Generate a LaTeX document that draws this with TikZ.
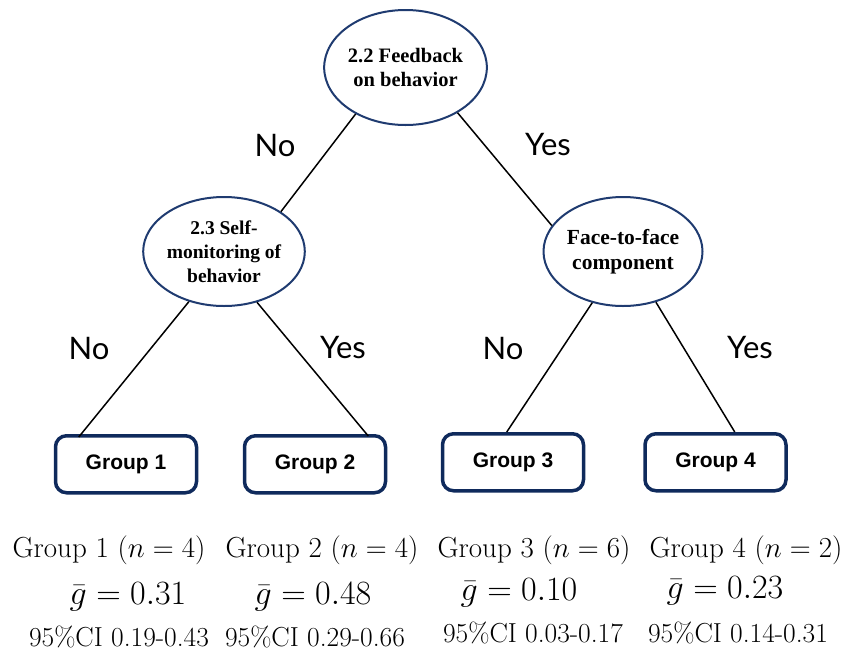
\RequirePackage{fix-cm}
\documentclass[tikz,border=0pt]{standalone}
\usepackage{fontspec}
\usepackage{amsmath}
\newfontfamily\splitfont{Liberation Serif}
\newfontfamily\groupfont{Liberation Sans}
\newfontfamily\answerfont{Lato}
\usetikzlibrary{shapes.geometric,positioning}
\definecolor{splitblue}{HTML}{1F3B70}
\definecolor{groupblue}{HTML}{0F2A5C}

\begin{document}
\begin{tikzpicture}
        [x=1pt, y=-1pt, node distance=70pt,
         split/.style={ellipse, draw=splitblue, line width=2pt, minimum width=159pt, minimum height=109pt, inner sep=0pt, align=center, font=\splitfont\bfseries\fontsize{21.5}{25}\selectfont},
         group/.style={draw=groupblue, line width=3.5pt, rounded corners=11pt, minimum width=141pt, minimum height=57pt, font=\groupfont\bfseries\fontsize{21}{25}\selectfont},
         answer/.style={font=\answerfont\fontsize{31}{36}\selectfont},
         branch/.style={line width=1.5pt},
         count/.style={anchor=base, inner sep=0pt, font=\fontsize{29}{32}\selectfont},
         mean/.style={anchor=base, inner sep=0pt, font=\fontsize{34}{38}\selectfont},
         ci/.style={anchor=base, inner sep=0pt, font=\fontsize{27.5}{30}\selectfont}]
        \useasboundingbox (0,0) rectangle (858,651);
        
        \node [split, minimum width=161pt, minimum height=115pt, font=\splitfont\bfseries\fontsize{20.5}{24}\selectfont] (fb) at (405.5,67.5) {2.2 Feedback\\on behavior};
        \node [split, font=\splitfont\bfseries\fontsize{19.5}{24}\selectfont] (sm) [below =of fb, xshift=-181.5pt] {2.3 Self-\\monitoring of\\behavior};
        \node [split] (ff) [below =of fb, xshift=217.5pt] {Face-to-face\\component};
        
        \node [group] (g1) [below =127pt of sm, xshift=-98pt] {Group 1};
        \node [group] (g2) [below =127pt of sm, xshift=91pt] {Group 2};
        \node [group] (g3) [below =125pt of ff, xshift=-110pt] {Group 3};
        \node [group] (g4) [below =125pt of ff, xshift=92.5pt] {Group 4};
        
        \node [answer] (no1) at (275,145) {No};
        \node [answer] (yes1) at (548,145) {Yes};
        \node [answer] (no2) at (89,348) {No};
        \node [answer] (yes2) at (343,348) {Yes};
        \node [answer] (no3) at (503,348) {No};
        \node [answer] (yes3) at (750,348) {Yes};
        
        \draw [branch] (fb.223) -- (sm.35);
        \draw [branch] (fb.319) -- (ff.160);
        \draw [branch] (sm.235) -- ([xshift=25pt,yshift=-3pt]g1.north west);
        \draw [branch] (sm.303) -- ([xshift=-19pt,yshift=-2pt]g2.north east);
        \draw [branch] (ff.239) -- ([xshift=66pt]g3.north west);
        \draw [branch] (ff.303) -- ([xshift=-53pt]g4.north east);
        
        \node [count] (n1) at (109,557) {Group 1 ($n=4$)};
        \node [count] (n2) at (322,557) {Group 2 ($n=4$)};
        \node [count] (n3) at (534,557) {Group 3 ($n=6$)};
        \node [count] (n4) at (746,557) {Group 4 ($n=2$)};
        
        \node [mean] (m1) at (128,604) {$\bar{g}=0.31$};
        \node [mean] (m2) at (313,604) {$\bar{g}=0.48$};
        \node [mean] (m3) at (519,600) {$\bar{g}=0.10$};
        \node [mean] (m4) at (725,598) {$\bar{g}=0.23$};
        
        \node [ci] (c1) at (119,646) {95\%CI 0.19-0.43};
        \node [ci] (c2) at (315,646) {95\%CI 0.29-0.66};
        \node [ci] (c3) at (533,642) {95\%CI 0.03-0.17};
        \node [ci] (c4) at (738,642) {95\%CI 0.14-0.31};
        
\end{tikzpicture}
\end{document}
